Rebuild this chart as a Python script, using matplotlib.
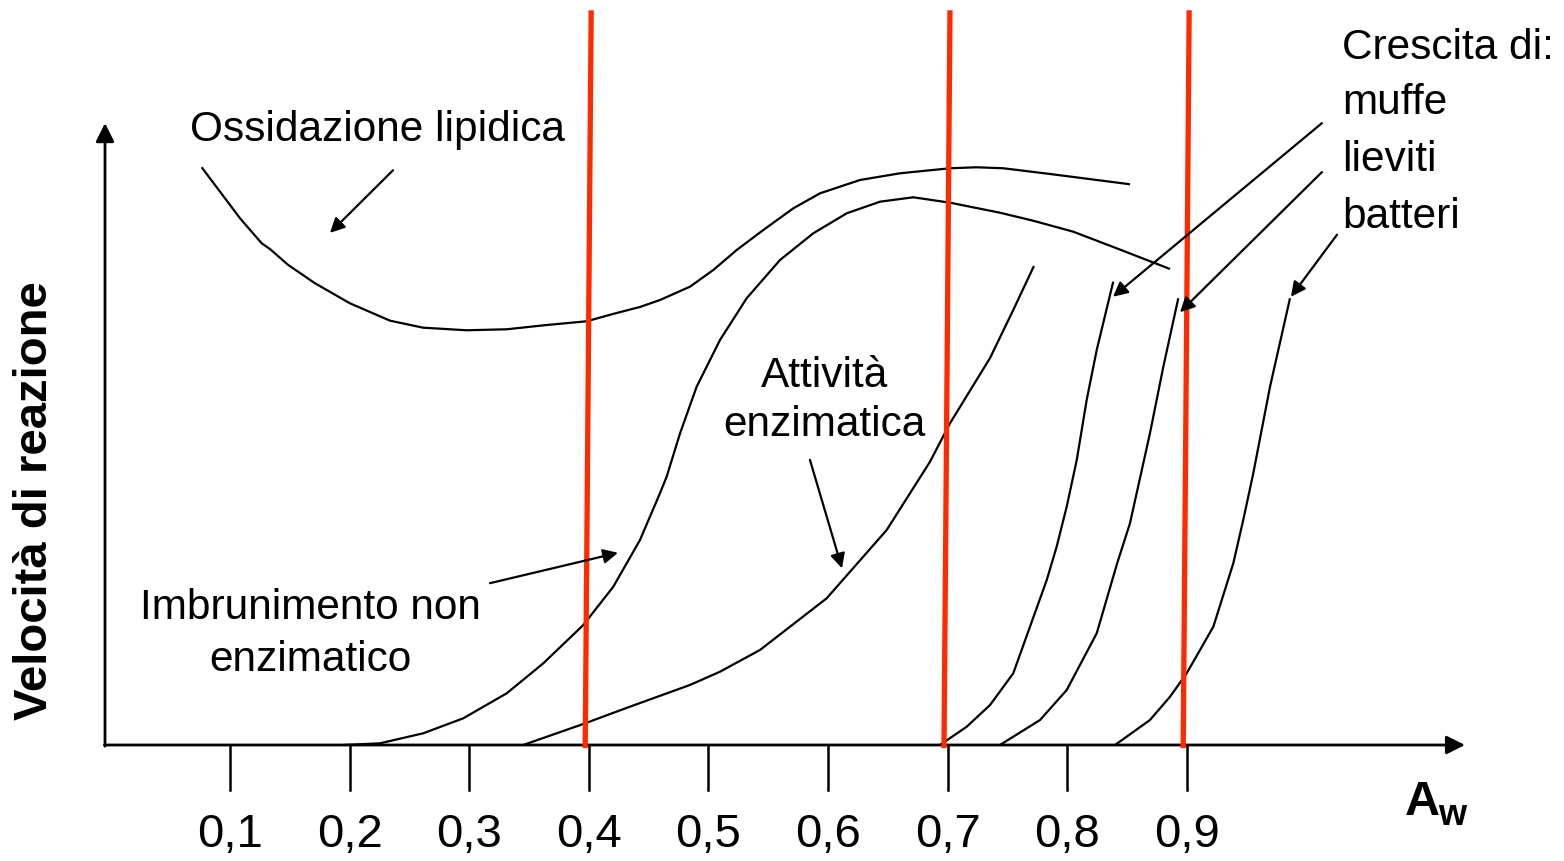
import matplotlib
matplotlib.use("Agg")
import matplotlib.pyplot as plt

plt.rcParams['font.family'] = ['Liberation Sans', 'DejaVu Sans']

# ---- data (Aw vs relative reaction rate, arbitrary units 0-100) ----
tick_values = [0.1, 0.2, 0.3, 0.4, 0.5, 0.6, 0.7, 0.8, 0.9]
tick_labels = ["0,1", "0,2", "0,3", "0,4", "0,5", "0,6", "0,7", "0,8", "0,9"]
limit_aw = [0.4, 0.7, 0.9]

ox_aw = [0.0763, 0.1084, 0.1265, 0.1334, 0.1487, 0.1711, 0.2003, 0.2338, 0.2614,
         0.2979, 0.3314, 0.3648, 0.3982, 0.4202, 0.4428, 0.4595, 0.4846, 0.5041,
         0.5237, 0.5459, 0.5710, 0.5933, 0.6268, 0.6602, 0.7020, 0.7243, 0.7466,
         0.7856, 0.8525]
ox_rate = [93.18, 84.95, 80.92, 80.0, 77.42, 74.47, 71.24, 68.44, 67.31,
           66.89, 67.05, 67.74, 68.34, 69.52, 70.65, 71.77, 73.92, 76.61,
           79.84, 83.06, 86.56, 88.98, 91.13, 92.21, 93.02, 93.18, 93.02,
           92.10, 90.44]

br_aw = [0.1947, 0.2254, 0.2616, 0.2951, 0.3314, 0.3620, 0.3954, 0.4205, 0.4428,
         0.4595, 0.4651, 0.4763, 0.4902, 0.5097, 0.5320, 0.5599, 0.5877, 0.6157,
         0.6435, 0.6713, 0.7020, 0.7438, 0.7716, 0.8051, 0.8414, 0.8860]
br_rate = [0.0, 0.27, 1.89, 4.31, 8.34, 13.18, 19.35, 25.53, 33.06,
           40.60, 43.27, 50.27, 57.79, 65.32, 72.05, 78.23, 82.53, 85.76,
           87.63, 88.34, 87.47, 85.85, 84.56, 82.79, 80.11, 76.77]

enz_aw = [0.3452, 0.3954, 0.4344, 0.4846, 0.5097, 0.5431, 0.5989, 0.6491, 0.6853,
          0.7020, 0.7355, 0.7549, 0.7722]
enz_rate = [0.0, 3.39, 6.18, 9.68, 11.82, 15.32, 23.66, 34.68, 45.69,
            51.89, 62.42, 70.16, 77.26]

mold_aw = [0.6936, 0.7160, 0.7355, 0.7549, 0.7689, 0.7829, 0.7912, 0.7996, 0.8080,
           0.8163, 0.8247, 0.8385]
mold_rate = [0.0, 2.95, 6.45, 11.56, 19.08, 26.61, 31.98, 38.44, 45.97,
             55.65, 63.71, 74.73]

yeast_aw = [0.7438, 0.7773, 0.7996, 0.8247, 0.8418, 0.8525, 0.8692, 0.8804, 0.8929]
yeast_rate = [0.0, 4.03, 8.87, 18.02, 29.31, 35.76, 50.27, 61.02, 72.05]

bact_aw = [0.8400, 0.8692, 0.8860, 0.8999, 0.9222, 0.9389, 0.9472, 0.9556, 0.9696, 0.9863]
bact_rate = [0.0, 4.03, 7.79, 11.56, 19.08, 29.31, 36.29, 43.82, 57.79, 72.05]

# ---- figure ----
fig = plt.figure(figsize=(15.64, 8.61), dpi=100)
ax = fig.add_axes([0, 0, 1, 1])
ax.set_xlim(-0.0923, 1.2154)
ax.set_ylim(-18.71, 120.16)
ax.axis('off')

FS = 30.5
lw_curve = 1.6

for xs, ys in [(ox_aw, ox_rate), (br_aw, br_rate), (enz_aw, enz_rate),
               (mold_aw, mold_rate), (yeast_aw, yeast_rate), (bact_aw, bact_rate)]:
    ax.plot(xs, ys, color='black', lw=lw_curve, solid_capstyle='butt',
            solid_joinstyle='round', zorder=3)

# axes with arrows
ax.annotate('', xy=(1.1326, 0), xytext=(-0.005, 0),
            arrowprops=dict(arrowstyle='-|>', lw=2.0, color='black', mutation_scale=28,
                            shrinkA=0, shrinkB=0), zorder=4)
ax.annotate('', xy=(-0.0045, 100.3), xytext=(-0.0045, -0.2),
            arrowprops=dict(arrowstyle='-|>', lw=2.0, color='black', mutation_scale=28,
                            shrinkA=0, shrinkB=0), zorder=4)

# ticks hanging below axis
for v, lab in zip(tick_values, tick_labels):
    ax.plot([v, v], [0, -7.3], color='black', lw=1.8, zorder=4)
    ax.text(v, -14.5, lab, fontsize=34, ha='center', va='center')

# red limit lines
for v in limit_aw:
    ax.plot([v - 0.003, v + 0.002], [-0.5, 118.5], color='#ff2a00', lw=3.8, zorder=5,
            solid_capstyle='butt')

# labels
ax.text(0.2237, 99.2, "Ossidazione lipidica", fontsize=FS, ha='center', va='center')
ax.text(0.597, 55.6, "Attività\nenzimatica", fontsize=FS, ha='center', va='center',
        linespacing=1.30)
ax.text(0.167, 17.9, "Imbrunimento non\nenzimatico", fontsize=FS, ha='center', va='center',
        linespacing=1.36)
ax.text(1.0298, 112.4, "Crescita di:", fontsize=FS, ha='left', va='center')
ax.text(1.0298, 103.5, "muffe", fontsize=FS, ha='left', va='center')
ax.text(1.0298, 94.4, "lieviti", fontsize=FS, ha='left', va='center')
ax.text(1.0298, 85.2, "batteri", fontsize=FS, ha='left', va='center')

ax.text(-0.063, 39.5, "Velocità di reazione", fontsize=34, fontweight='bold',
        rotation=90, ha='center', va='center')
ax.text(1.0967, -9.35, "A", fontsize=35, fontweight='bold', ha='center', va='center')
ax.text(1.1217, -11.45, "w", fontsize=26, fontweight='bold', ha='center', va='center')

# pointer arrows
pointers = [((0.2363, 92.7), (0.1836, 82.6)),
            ((0.3174, 26.1), (0.4244, 31.0)),
            ((0.5849, 46.0), (0.6117, 28.5)),
            ((1.0130, 100.3), (0.8383, 72.3)),
            ((1.0130, 92.4), (0.8943, 69.8)),
            ((1.0256, 82.3), (0.9871, 72.3))]
for start, end in pointers:
    ax.annotate('', xy=end, xytext=start,
                arrowprops=dict(arrowstyle='-|>', lw=1.6, color='black', mutation_scale=22,
                                shrinkA=0, shrinkB=0), zorder=6)

fig.savefig('out.png', dpi=100)
